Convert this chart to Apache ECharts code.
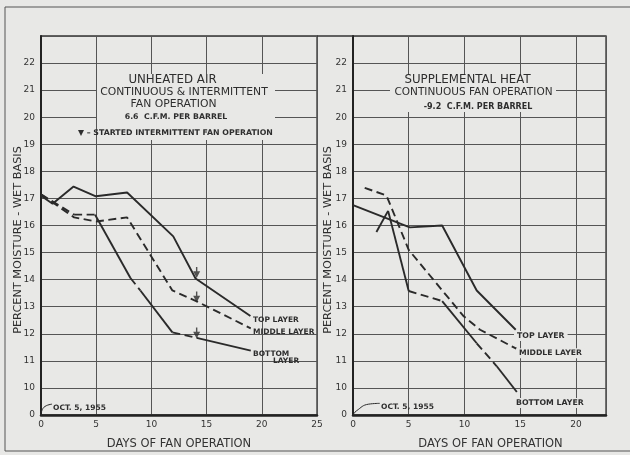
<!DOCTYPE html>
<html><head><meta charset="utf-8">
<script src="https://cdn.jsdelivr.net/npm/echarts@6/dist/echarts.min.js"></script>
<style>html,body{margin:0;padding:0;background:#e8e8e6}#c{width:630px;height:455px}</style>
</head><body><div id="c"></div><script>
// ---------- data ----------
// axis break: moisture 0 is drawn one step below 10
const BREAK = 9;
const yTickValues = [0, 10, 11, 12, 13, 14, 15, 16, 17, 18, 19, 20, 21, 22];
const xTicksLeft = [0, 5, 10, 15, 20, 25];
const xTicksRight = [0, 5, 10, 15, 20];

// Left panel: unheated air
const leftTopDays = [0, 1.05, 2.95, 4.97, 7.8, 11.98, 14.0, 18.97];
const leftTopMoisture = [17.1, 16.8, 17.44, 17.08, 17.22, 15.6, 14.04, 12.66];
const leftMiddleDays = [0, 3, 5, 7.8, 11.9, 14.1, 19];
const leftMiddleMoisture = [17.15, 16.3, 16.15, 16.3, 13.6, 13.2, 12.2];
const leftBottomDays = [0, 3, 4.9, 8.1, 9.0, 11.9, 14.1, 19];
const leftBottomMoisture = [17.15, 16.4, 16.4, 14.06, 13.6, 12.05, 11.85, 11.38];
const leftMarkerDays = [14.1, 14.1, 14.1];
const leftMarkerMoisture = [14.26, 13.36, 12.03];

// Right panel: supplemental heat
const rightTopDays = [0, 5.1, 8, 11.1, 14.6];
const rightTopMoisture = [16.75, 15.93, 16.0, 13.6, 12.15];
const rightMiddleDays = [1.05, 3, 5, 9.9, 11.4, 14.7];
const rightMiddleMoisture = [17.39, 17.11, 15.1, 12.66, 12.15, 11.44];
const rightBottomDays = [2.1, 3.15, 5, 8, 11.1, 12.9, 14.7];
const rightBottomMoisture = [15.76, 16.54, 13.58, 13.21, 11.65, 10.8, 9.85];

// leader lines from origin to the "OCT. 5, 1955" notes (axis units)
const leftLeaderDays = [0, 0.25, 1.0];
const leftLeaderY = [BREAK, 9.28, 9.4];
const rightLeaderDays = [0, 0.3, 1.4, 2.4];
const rightLeaderY = [BREAK, 9.15, 9.4, 9.43];

// ---------- styles ----------
const leftBottomDashed = [true, true, false, true, false, true, false];
const rightBottomDashed = [false, false, true, false, true, false];
const INK = '#2a2a2a', BG = '#e8e8e6', FONT = 'DejaVu Sans';
const DASH = [8, 4.5];

function pts(days, vals) { return days.map((d, i) => [d, vals[i]]); }
function line(idx, days, vals, dashed, extra) {
  return Object.assign({
    type: 'line', xAxisIndex: idx, yAxisIndex: idx, data: pts(days, vals),
    symbol: 'none', silent: true, animation: false,
    lineStyle: { color: INK, width: 1.9, type: dashed ? DASH : 'solid' }, z: 5
  }, extra || {});
}
function segmented(idx, days, vals, flags) {
  return flags.map((f, i) => line(idx, days.slice(i, i + 2), vals.slice(i, i + 2), f));
}

function yAxis(idx) {
  return {
    type: 'value', gridIndex: idx, min: BREAK, max: 23, interval: 1,
    axisLine: { show: true, lineStyle: { color: '#222', width: 2 } },
    axisTick: { show: false },
    splitLine: { show: true, lineStyle: { color: '#555', width: 1 } },
    axisLabel: {
      fontSize: 9, color: '#333', fontFamily: FONT, margin: 6,
      formatter: v => v === BREAK ? String(yTickValues[0]) : (yTickValues.indexOf(v) >= 0 ? String(v) : '')
    }
  };
}
function xAxis(idx, max, ticks, pad) {
  return {
    type: 'value', gridIndex: idx, min: 0, max: max, interval: 5,
    name: 'DAYS OF FAN OPERATION', nameLocation: 'middle', nameGap: 23,
    nameTextStyle: { fontSize: 11.5, color: '#333', fontFamily: FONT, padding: [0, 0, 0, pad] },
    axisLine: { show: true, lineStyle: { color: '#222', width: 2.5 } },
    axisTick: { show: false },
    splitLine: { show: true, lineStyle: { color: '#555', width: 1 } },
    axisLabel: {
      fontSize: 9, color: '#333', fontFamily: FONT, margin: 5,
      formatter: v => ticks.indexOf(v) >= 0 ? String(v) : ''
    }
  };
}

function txt(x, y, text, size, opts) {
  opts = opts || {};
  return {
    type: 'text', x: x, y: y, z: 101, rotation: opts.rot || 0,
    style: Object.assign({
      text: text, fontSize: size, fontFamily: FONT, fill: '#2e2e2e',
      fontWeight: opts.bold ? 'bold' : 'normal',
      align: opts.align || 'center', verticalAlign: 'middle'
    }, opts.bg ? { backgroundColor: BG, padding: [1, 3] } : {})
  };
}

const series = [
  line(0, leftTopDays, leftTopMoisture, false),
  line(0, leftMiddleDays, leftMiddleMoisture, true),
  ...segmented(0, leftBottomDays, leftBottomMoisture, leftBottomDashed),
  {
    type: 'scatter', xAxisIndex: 0, yAxisIndex: 0, data: pts(leftMarkerDays, leftMarkerMoisture),
    symbol: 'path://M4,0H6V5H10L5,13L0,5H4Z', symbolSize: [7, 11],
    itemStyle: { color: INK }, silent: true, animation: false, z: 6
  },
  line(0, leftLeaderDays, leftLeaderY, false, { smooth: true, lineStyle: { color: INK, width: 1 } }),
  line(1, rightTopDays, rightTopMoisture, false),
  line(1, rightMiddleDays, rightMiddleMoisture, true),
  ...segmented(1, rightBottomDays, rightBottomMoisture, rightBottomDashed),
  line(1, rightLeaderDays, rightLeaderY, false, { smooth: true, lineStyle: { color: INK, width: 1 } })
];

const chart = echarts.init(document.getElementById('c'), null, { renderer: 'canvas' });
chart.setOption({
  backgroundColor: BG,
  animation: false,
  grid: [
    { left: 41, top: 36, width: 276, height: 383, show: true, borderColor: '#333', borderWidth: 1.3, backgroundColor: 'transparent' },
    { left: 353, top: 36, width: 253, height: 383, show: true, borderColor: '#333', borderWidth: 1.3, backgroundColor: 'transparent' }
  ],
  xAxis: [xAxis(0, 25, xTicksLeft, 0), xAxis(1, 22.7, xTicksRight, 22)],
  yAxis: [yAxis(0), yAxis(1)],
  series: series,
  graphic: [
    { type: 'rect', z: 50, shape: { x: 5, y: 7, width: 680, height: 444 }, style: { fill: 'none', stroke: '#555', lineWidth: 1 } },
    { type: 'line', z: 50, shape: { x1: 317, y1: 36, x2: 353, y2: 36 }, style: { stroke: '#333', lineWidth: 1.3 } },
    { type: 'rect', z: 100, shape: { x: 97, y: 74, width: 178, height: 66 }, style: { fill: BG } },
    { type: 'rect', z: 100, shape: { x: 390, y: 74, width: 166, height: 38 }, style: { fill: BG } },
    txt(18.5, 240, 'PERCENT MOISTURE - WET BASIS', 11.3, { rot: Math.PI / 2 }),
    txt(328.5, 240, 'PERCENT MOISTURE - WET BASIS', 11.3, { rot: Math.PI / 2 }),
    txt(172.5, 80, 'UNHEATED AIR', 11.8),
    txt(184, 92.3, 'CONTINUOUS & INTERMITTENT', 10.8),
    txt(173.5, 103.7, 'FAN OPERATION', 10.8),
    txt(176, 117.3, '6.6  C.F.M. PER BARREL', 7.8, { bold: true }),
    txt(78, 133.3, '▼ – STARTED INTERMITTENT FAN OPERATION', 7.8, { bold: true, align: 'left' }),
    txt(467.5, 80, 'SUPPLEMENTAL HEAT', 11.8),
    txt(473.5, 92, 'CONTINUOUS FAN OPERATION', 10.5),
    txt(478, 107, '-9.2  C.F.M. PER BARREL', 8, { bold: true }),
    txt(253, 320, 'TOP LAYER', 7.5, { bold: true, align: 'left' }),
    txt(253, 331.7, 'MIDDLE LAYER', 7.5, { bold: true, align: 'left' }),
    txt(253, 354, 'BOTTOM', 7.5, { bold: true, align: 'left' }),
    txt(273, 361, 'LAYER', 7.5, { bold: true, align: 'left' }),
    txt(514, 336, 'TOP LAYER', 7.8, { bold: true, align: 'left', bg: true }),
    txt(516, 353.3, 'MIDDLE LAYER', 7.7, { bold: true, align: 'left', bg: true }),
    txt(513, 403, 'BOTTOM LAYER', 7.8, { bold: true, align: 'left', bg: true }),
    txt(53, 407.7, 'OCT. 5, 1955', 7.5, { bold: true, align: 'left' }),
    txt(381, 407.3, 'OCT. 5, 1955', 7.5, { bold: true, align: 'left' })
  ]
});
</script></body></html>
